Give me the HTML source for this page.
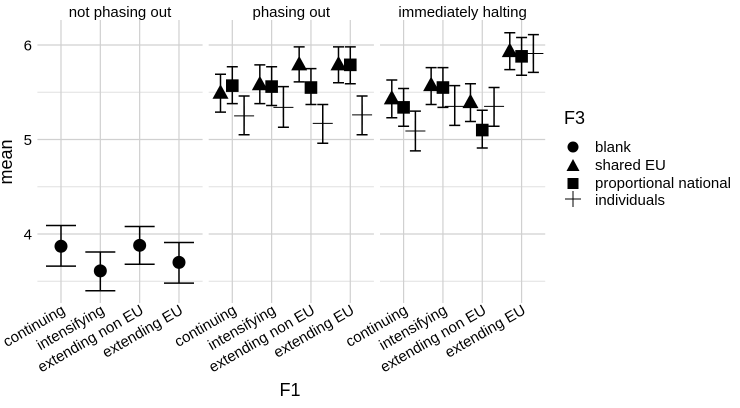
<!DOCTYPE html>
<html><head><meta charset="utf-8"><style>
body{margin:0;background:#fff;}
svg{font-family:"Liberation Sans",Arial,sans-serif;}
</style></head><body>
<svg id="chart" width="740" height="403" viewBox="0 0 740 403">
<g id="grid"></g>
<g id="marks"></g>
<g id="axes"></g>
<text x="12" y="162" font-size="18" text-anchor="middle" transform="rotate(-90 12 162)">mean</text>
<text x="290" y="396" font-size="18" text-anchor="middle">F1</text>
<g>
<text x="564" y="124" font-size="18">F3</text>
<g><circle cx="573" cy="147" r="5.5"/><text x="595" y="152" font-size="15">blank</text></g>
<g><polygon points="573,159 579.5,171 566.5,171"/><text x="595" y="170" font-size="15">shared EU</text></g>
<g><rect x="567.5" y="178" width="11" height="11"/><text x="595" y="188" font-size="15">proportional national</text></g>
<g><path d="M565 199H581M573 191V207" stroke="#000" stroke-width="1"/><text x="595" y="205" font-size="15">individuals</text></g>
</g>
</svg>
<script>
const facets=["not phasing out","phasing out","immediately halting"];
const categories=["continuing","intensifying","extending non  EU","extending EU"];
const series=["blank","shared EU","proportional national","individuals"];
const yTicks=[4,5,6];
const blankMean=[3.87,3.61,3.88,3.70];
const blankLo=[3.66,3.40,3.68,3.48];
const blankHi=[4.09,3.81,4.08,3.91];
const p2SharedMean=[5.49,5.58,5.79,5.79];
const p2SharedLo=[5.29,5.38,5.61,5.60];
const p2SharedHi=[5.69,5.79,5.98,5.98];
const p2PropMean=[5.57,5.56,5.55,5.79];
const p2PropLo=[5.38,5.36,5.37,5.59];
const p2PropHi=[5.77,5.77,5.75,5.98];
const p2IndMean=[5.25,5.34,5.17,5.26];
const p2IndLo=[5.05,5.13,4.96,5.05];
const p2IndHi=[5.46,5.56,5.37,5.46];
const p3SharedMean=[5.43,5.57,5.39,5.93];
const p3SharedLo=[5.23,5.37,5.19,5.74];
const p3SharedHi=[5.63,5.76,5.59,6.13];
const p3PropMean=[5.34,5.55,5.10,5.88];
const p3PropLo=[5.14,5.34,4.91,5.68];
const p3PropHi=[5.54,5.76,5.31,6.08];
const p3IndMean=[5.09,5.35,5.35,5.91];
const p3IndLo=[4.88,5.15,5.14,5.71];
const p3IndHi=[5.30,5.57,5.55,6.11];

const NS="http://www.w3.org/2000/svg";
const panelX0=[37.4,208.7,380],panelW=165.2,unit=39.33,plotTop=20,plotBottom=303;
function yS(v){return 45+(6-v)*94.5;}
function xS(f,c,off){return panelX0[f]+unit*(0.6+c)+off*unit;}
function el(tag,attrs,parent){const e=document.createElementNS(NS,tag);for(const k in attrs)e.setAttribute(k,attrs[k]);parent.appendChild(e);return e;}
const grid=document.getElementById('grid'),marks=document.getElementById('marks'),axes=document.getElementById('axes');
facets.forEach((f,fi)=>{
  const x0=panelX0[fi];
  [3.5,4.5,5.5].forEach(v=>{const l=el('line',{x1:x0,x2:x0+panelW,y1:yS(v),y2:yS(v),stroke:'#e0e0e0','stroke-width':0.9},grid);
    
    });
  yTicks.forEach(v=>{const l=el('line',{x1:x0,x2:x0+panelW,y1:yS(v),y2:yS(v),stroke:'#d0d0d0','stroke-width':1.2},grid);
    
    });
  categories.forEach((c,ci)=>{const x=xS(fi,ci,0);
    const l=el('line',{x1:x,x2:x,y1:plotTop,y2:plotBottom,stroke:'#d0d0d0','stroke-width':1.2},grid);
    
    
    const t=el('text',{x:x+5,y:313,'font-size':15,'text-anchor':'end',transform:`rotate(-30 ${x+5} 313)`},axes);
    t.textContent=c;
    
    
  });
  const st=el('text',{x:x0+panelW/2,y:17,'font-size':15,'text-anchor':'middle'},axes);
  st.textContent=f;
  
  
});
yTicks.forEach(v=>{const t=el('text',{x:32,y:yS(v)+5.5,'font-size':15,'text-anchor':'end'},axes);t.textContent=v;
  
  });

function errbar(x,lo,hi,hw){
  const p=el('path',{d:`M${x-hw} ${yS(hi)}H${x+hw}M${x-hw} ${yS(lo)}H${x+hw}M${x} ${yS(hi)}V${yS(lo)}`,stroke:'#000','stroke-width':1.5,fill:'none'},marks);
  
  
}
function point(shape,x,v){
  const y=yS(v);let e;
  if(shape==='circle') e=el('circle',{cx:x,cy:y,r:6.5},marks);
  else if(shape==='tri') e=el('polygon',{points:`${x},${y-9} ${x+8},${y+5.5} ${x-8},${y+5.5}`},marks);
  else if(shape==='sq') e=el('rect',{x:x-6.3,y:y-6.3,width:12.6,height:12.6},marks);
  else e=el('path',{d:`M${x-10} ${y}H${x+10}M${x} ${y-10}V${y+10}`,stroke:'#000','stroke-width':1},marks);
  
  
}
categories.forEach((c,ci)=>{const x=xS(0,ci,0);errbar(x,blankLo[ci],blankHi[ci],15);point('circle',x,blankMean[ci]);});
const groups=[[1,p2SharedMean,p2SharedLo,p2SharedHi,p2PropMean,p2PropLo,p2PropHi,p2IndMean,p2IndLo,p2IndHi],
              [2,p3SharedMean,p3SharedLo,p3SharedHi,p3PropMean,p3PropLo,p3PropHi,p3IndMean,p3IndLo,p3IndHi]];
groups.forEach(g=>{const fi=g[0];
  categories.forEach((c,ci)=>{
    const xa=xS(fi,ci,-0.3),xb=xS(fi,ci,0),xc=xS(fi,ci,0.3);
    errbar(xa,g[2][ci],g[3][ci],5.5);point('tri',xa,g[1][ci]);
    errbar(xb,g[5][ci],g[6][ci],5.5);point('sq',xb,g[4][ci]);
    errbar(xc,g[8][ci],g[9][ci],5.5);point('plus',xc,g[7][ci]);
  });
});
</script>
</body></html>
